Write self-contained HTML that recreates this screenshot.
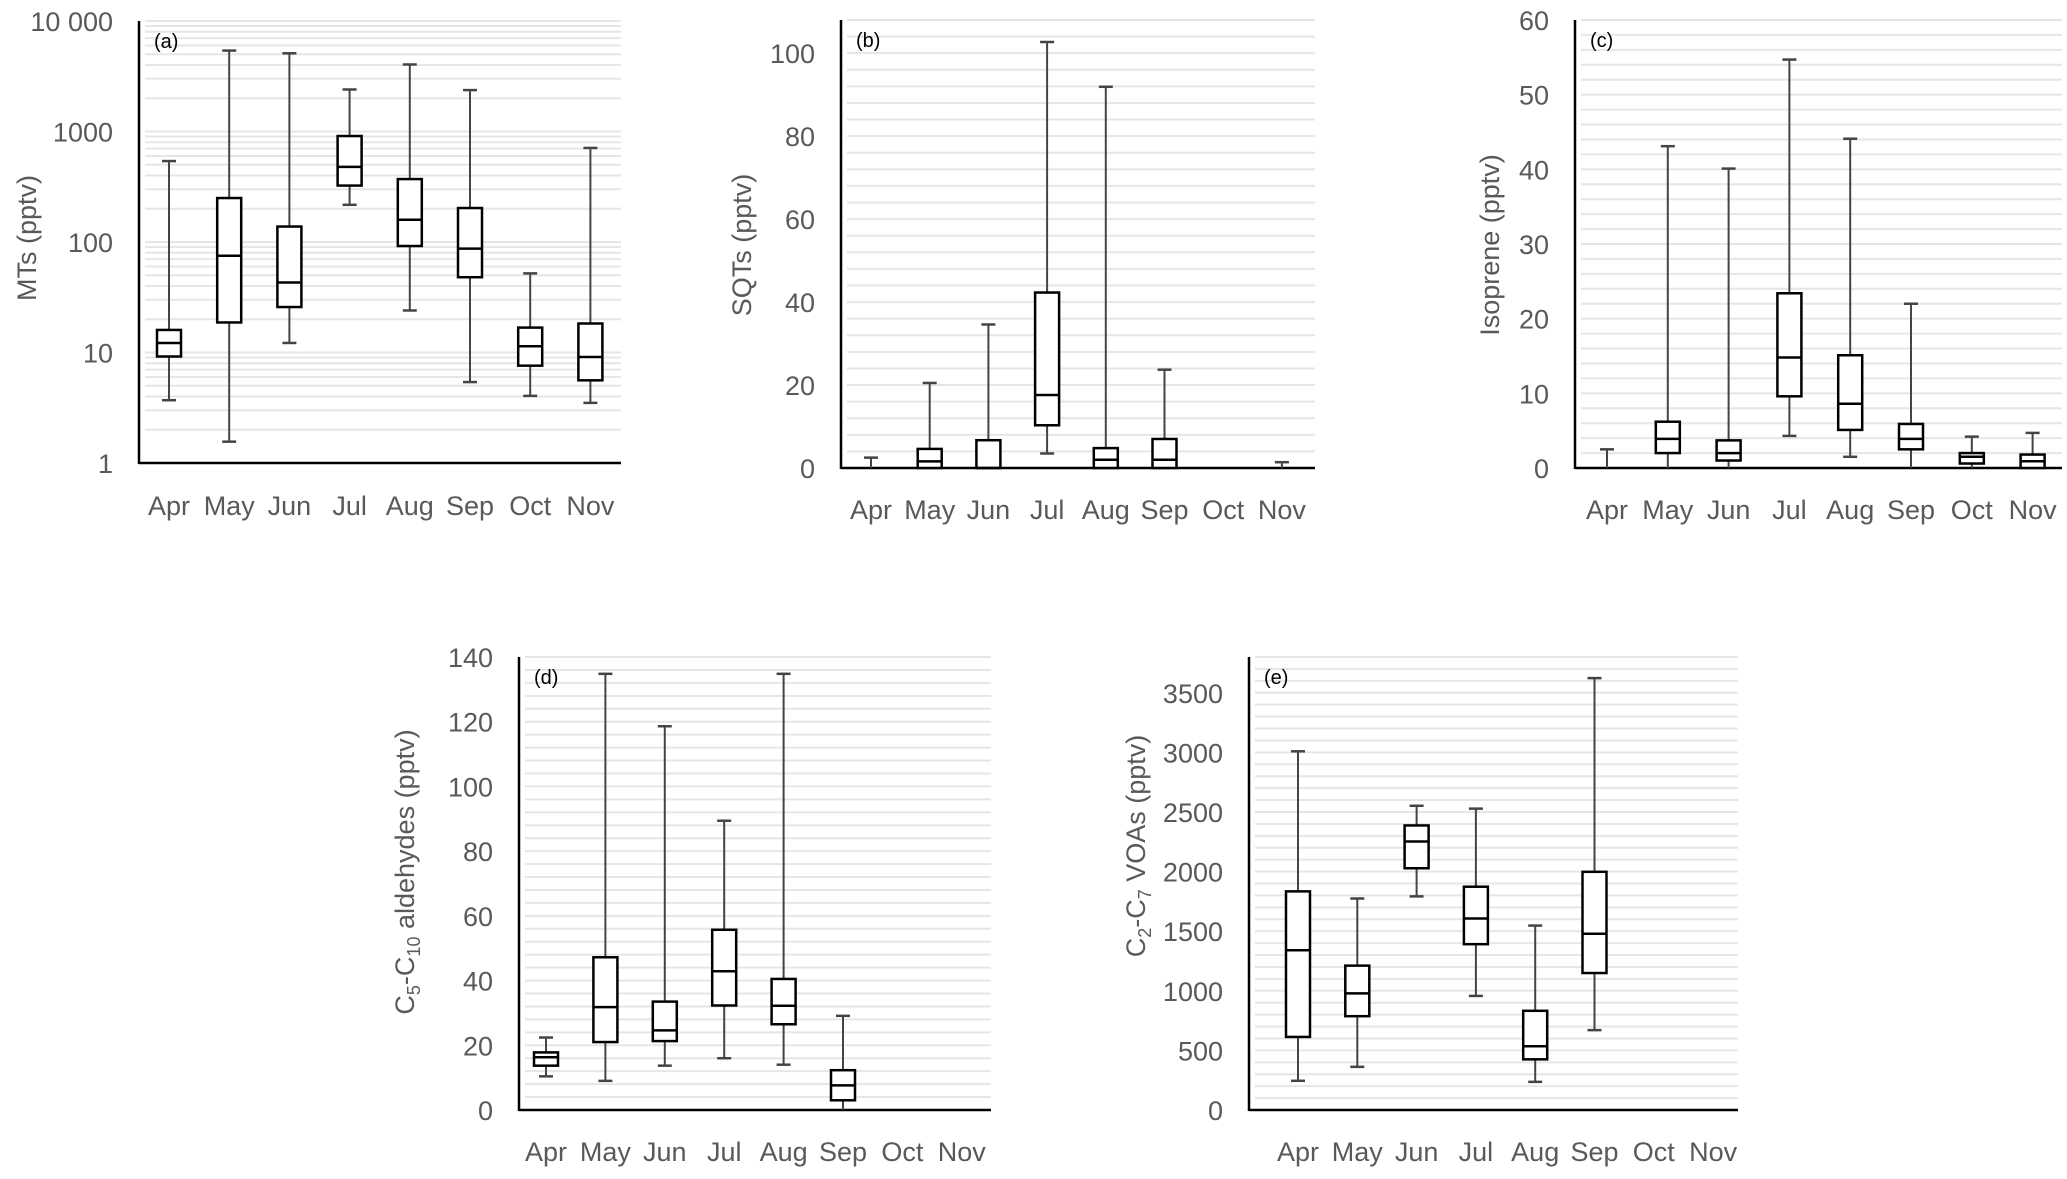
<!DOCTYPE html>
<html><head><meta charset="utf-8">
<style>
html,body{margin:0;padding:0;background:#fff;}
svg{display:block;font-family:"Liberation Sans","DejaVu Sans",sans-serif;}
</style></head>
<body>
<svg id="fig" width="2067" height="1179" viewBox="0 0 2067 1179" xmlns="http://www.w3.org/2000/svg"></svg>
<script>
const months = ["Apr","May","Jun","Jul","Aug","Sep","Oct","Nov"];
// (a) MTs (log)
const aMin = [3.7,1.56,12.2,217,24,5.4,4.05,3.5];
const aQ1  = [9.2,18.7,25.8,324,92,48,7.6,5.6];
const aMed = [12.2,75,43,478,159,87,11.4,9.1];
const aQ3  = [16,250,138,910,371,203,16.8,18.3];
const aMax = [540,5400,5100,2400,4040,2370,52,710];
const aTicks = [1,10,100,1000,10000];
const aTickLabels = ["1","10","100","1000","10 000"];
// (b) SQTs
const bMin = [0,0,0,3.5,0,0,null,0];
const bQ1  = [0,0,0,10.3,0,0,null,0];
const bMed = [0,1.6,0,17.6,2,2,null,0];
const bQ3  = [0,4.6,6.7,42.3,4.8,7,null,0];
const bMax = [2.5,20.5,34.6,102.7,91.9,23.7,null,1.4];
const bTicks = [0,20,40,60,80,100];
// (c) Isoprene
const cMin = [0,0,0,4.3,1.5,0,0,0];
const cQ1  = [0,2.0,1.0,9.6,5.1,2.5,0.6,0];
const cMed = [0,3.9,2.0,14.8,8.6,3.9,1.5,0.9];
const cQ3  = [0,6.2,3.7,23.4,15.1,5.9,2.0,1.8];
const cMax = [2.5,43.1,40.1,54.7,44.1,22,4.2,4.7];
const cTicks = [0,10,20,30,40,50,60];
// (d) aldehydes
const dMin = [10.4,9,13.7,16,14,0,null,null];
const dQ1  = [13.7,21,21.3,32.3,26.5,3,null,null];
const dMed = [16.3,31.8,24.6,42.9,32.2,7.6,null,null];
const dQ3  = [17.8,47.2,33.5,55.7,40.5,12.3,null,null];
const dMax = [22.4,134.8,118.6,89.4,134.8,29.1,null,null];
const dTicks = [0,20,40,60,80,100,120,140];
// (e) VOAs
const eMin = [245,362,1792,957,236,670,null,null];
const eQ1  = [613,787,2028,1391,425,1149,null,null];
const eMed = [1340,978,2252,1606,535,1478,null,null];
const eQ3  = [1834,1211,2387,1873,832,1998,null,null];
const eMax = [3009,1774,2552,2528,1547,3623,null,null];
const eTicks = [0,500,1000,1500,2000,2500,3000,3500];

const NS = "http://www.w3.org/2000/svg";
const svg = document.getElementById("fig");
function mk(tag, attrs, parent){
  const e = document.createElementNS(NS, tag);
  for (const k in attrs) e.setAttribute(k, attrs[k]);
  (parent||svg).appendChild(e);
  return e;
}

function panel(cfg){
  const g = mk("g", {});
  
  
  const y = cfg.log
    ? v => cfg.y0 - (Math.log10(v) - Math.log10(cfg.vmin)) / (Math.log10(cfg.vmax) - Math.log10(cfg.vmin)) * (cfg.y0 - cfg.yTop)
    : v => cfg.y0 - (v - cfg.vmin) / (cfg.vmax - cfg.vmin) * (cfg.y0 - cfg.yTop);
  const x = i => cfg.xFirst + i * cfg.xStep;
  const grid = [];
  if (cfg.log){
    for (let d = cfg.vmin; d < cfg.vmax; d *= 10) for (let k = 1; k <= 9; k++) if (!(d===cfg.vmin && k===1)) grid.push(d*k);
    grid.push(cfg.vmax);
  } else {
    for (let v = cfg.vmin + cfg.gridStep; v <= cfg.vmax + 1e-9; v += cfg.gridStep) grid.push(v);
  }
  grid.forEach(v => {
    const l = mk("line", {x1: cfg.axX + 6, x2: cfg.xRight, y1: y(v), y2: y(v), stroke: "#e6e6e6", "stroke-width": 2}, g);
    
    
  });
  cfg.ticks.forEach((t, i) => {
    const tx = mk("text", {x: cfg.axX - 26, y: y(t) + 10, "text-anchor": "end", "font-size": 27, fill: "#595959"}, g);
    tx.textContent = cfg.tickLabels ? cfg.tickLabels[i] : String(t);
    
    
  });
  const ya = mk("line", {x1: cfg.axX, x2: cfg.axX, y1: cfg.yTop, y2: cfg.y0 + 1, stroke: "#000", "stroke-width": 2.5}, g);
  
  
  const xa = mk("line", {x1: cfg.axX, x2: cfg.xRight, y1: cfg.y0, y2: cfg.y0, stroke: "#000", "stroke-width": 2.5}, g);
  
  
  months.forEach((m, i) => {
    const t = mk("text", {x: x(i), y: cfg.labY, "text-anchor": "middle", "font-size": 27, fill: "#595959"}, g);
    t.textContent = m;
    
    
  });
  const pl = mk("text", {x: cfg.axX + 15, y: cfg.yTop + 27, "font-size": 20, fill: "#000"}, g);
  pl.textContent = "(" + cfg.id + ")";
  
  
  const yt = mk("text", {x: 0, y: 0, "text-anchor": "middle", "font-size": 27, fill: "#595959",
    transform: "translate(" + cfg.titleX + "," + cfg.titleY + ") rotate(-90)"}, g);
  
  
  yt.innerHTML = cfg.title;
  const bw = 24, cw = 12;
  months.forEach((m, i) => {
    if (cfg.max[i] === null) return;
    const cx = x(i);
    const bg = mk("g", {}, g);
    
    
    const yl = y(cfg.min[i]), yq1 = y(cfg.q1[i]), ym = y(cfg.med[i]), yq3 = y(cfg.q3[i]), yh = y(cfg.max[i]);
    mk("line", {x1: cx, x2: cx, y1: yh, y2: yq3, stroke: "#444", "stroke-width": 2}, bg);
    mk("line", {x1: cx, x2: cx, y1: yq1, y2: yl, stroke: "#444", "stroke-width": 2}, bg);
    mk("line", {x1: cx - cw/2 - 1, x2: cx + cw/2 + 1, y1: yh, y2: yh, stroke: "#444", "stroke-width": 2.5}, bg);
    if (cfg.min[i] > cfg.vmin)
      mk("line", {x1: cx - cw/2 - 1, x2: cx + cw/2 + 1, y1: yl, y2: yl, stroke: "#444", "stroke-width": 2.5}, bg);
    if (yq1 - yq3 > 0.5){
      mk("rect", {x: cx - bw/2, y: yq3, width: bw, height: yq1 - yq3, fill: "#fff", stroke: "#000", "stroke-width": 2.5}, bg);
      mk("line", {x1: cx - bw/2, x2: cx + bw/2, y1: ym, y2: ym, stroke: "#000", "stroke-width": 2.5}, bg);
    }
  });
}

panel({id:"a", log:true, vmin:1, vmax:10000, y0:463, yTop:21, axX:139, xRight:621, xFirst:169, xStep:60.2,
  labY:515, ticks:aTicks, tickLabels:aTickLabels, title:"MTs  (pptv)", titleX:36, titleY:238,
  min:aMin,q1:aQ1,med:aMed,q3:aQ3,max:aMax});
panel({id:"b", log:false, vmin:0, vmax:108, gridStep:4, y0:468, yTop:20, axX:841, xRight:1315, xFirst:871, xStep:58.7,
  labY:519, ticks:bTicks, title:"SQTs  (pptv)", titleX:751, titleY:245,
  min:bMin,q1:bQ1,med:bMed,q3:bQ3,max:bMax});
panel({id:"c", log:false, vmin:0, vmax:60, gridStep:2, y0:468, yTop:20, axX:1575, xRight:2062, xFirst:1607, xStep:60.8,
  labY:519, ticks:cTicks, title:"Isoprene (pptv)", titleX:1499, titleY:245,
  min:cMin,q1:cQ1,med:cMed,q3:cQ3,max:cMax});
panel({id:"d", log:false, vmin:0, vmax:140, gridStep:4, y0:1110, yTop:657, axX:519, xRight:991, xFirst:546, xStep:59.4,
  labY:1161, ticks:dTicks, title:"C<tspan font-size='18' dy='6'>5</tspan><tspan dy='-6'>-C</tspan><tspan font-size='18' dy='6'>10</tspan><tspan dy='-6'> aldehydes (pptv)</tspan>", titleX:414, titleY:872,
  min:dMin,q1:dQ1,med:dMed,q3:dQ3,max:dMax});
panel({id:"e", log:false, vmin:0, vmax:3800, gridStep:100, y0:1110, yTop:657, axX:1249, xRight:1738, xFirst:1298, xStep:59.3,
  labY:1161, ticks:eTicks, title:"C<tspan font-size='18' dy='6'>2</tspan><tspan dy='-6'>-C</tspan><tspan font-size='18' dy='6'>7</tspan><tspan dy='-6'> VOAs (pptv)</tspan>", titleX:1145, titleY:846,
  min:eMin,q1:eQ1,med:eMed,q3:eQ3,max:eMax});
</script>
</body></html>
